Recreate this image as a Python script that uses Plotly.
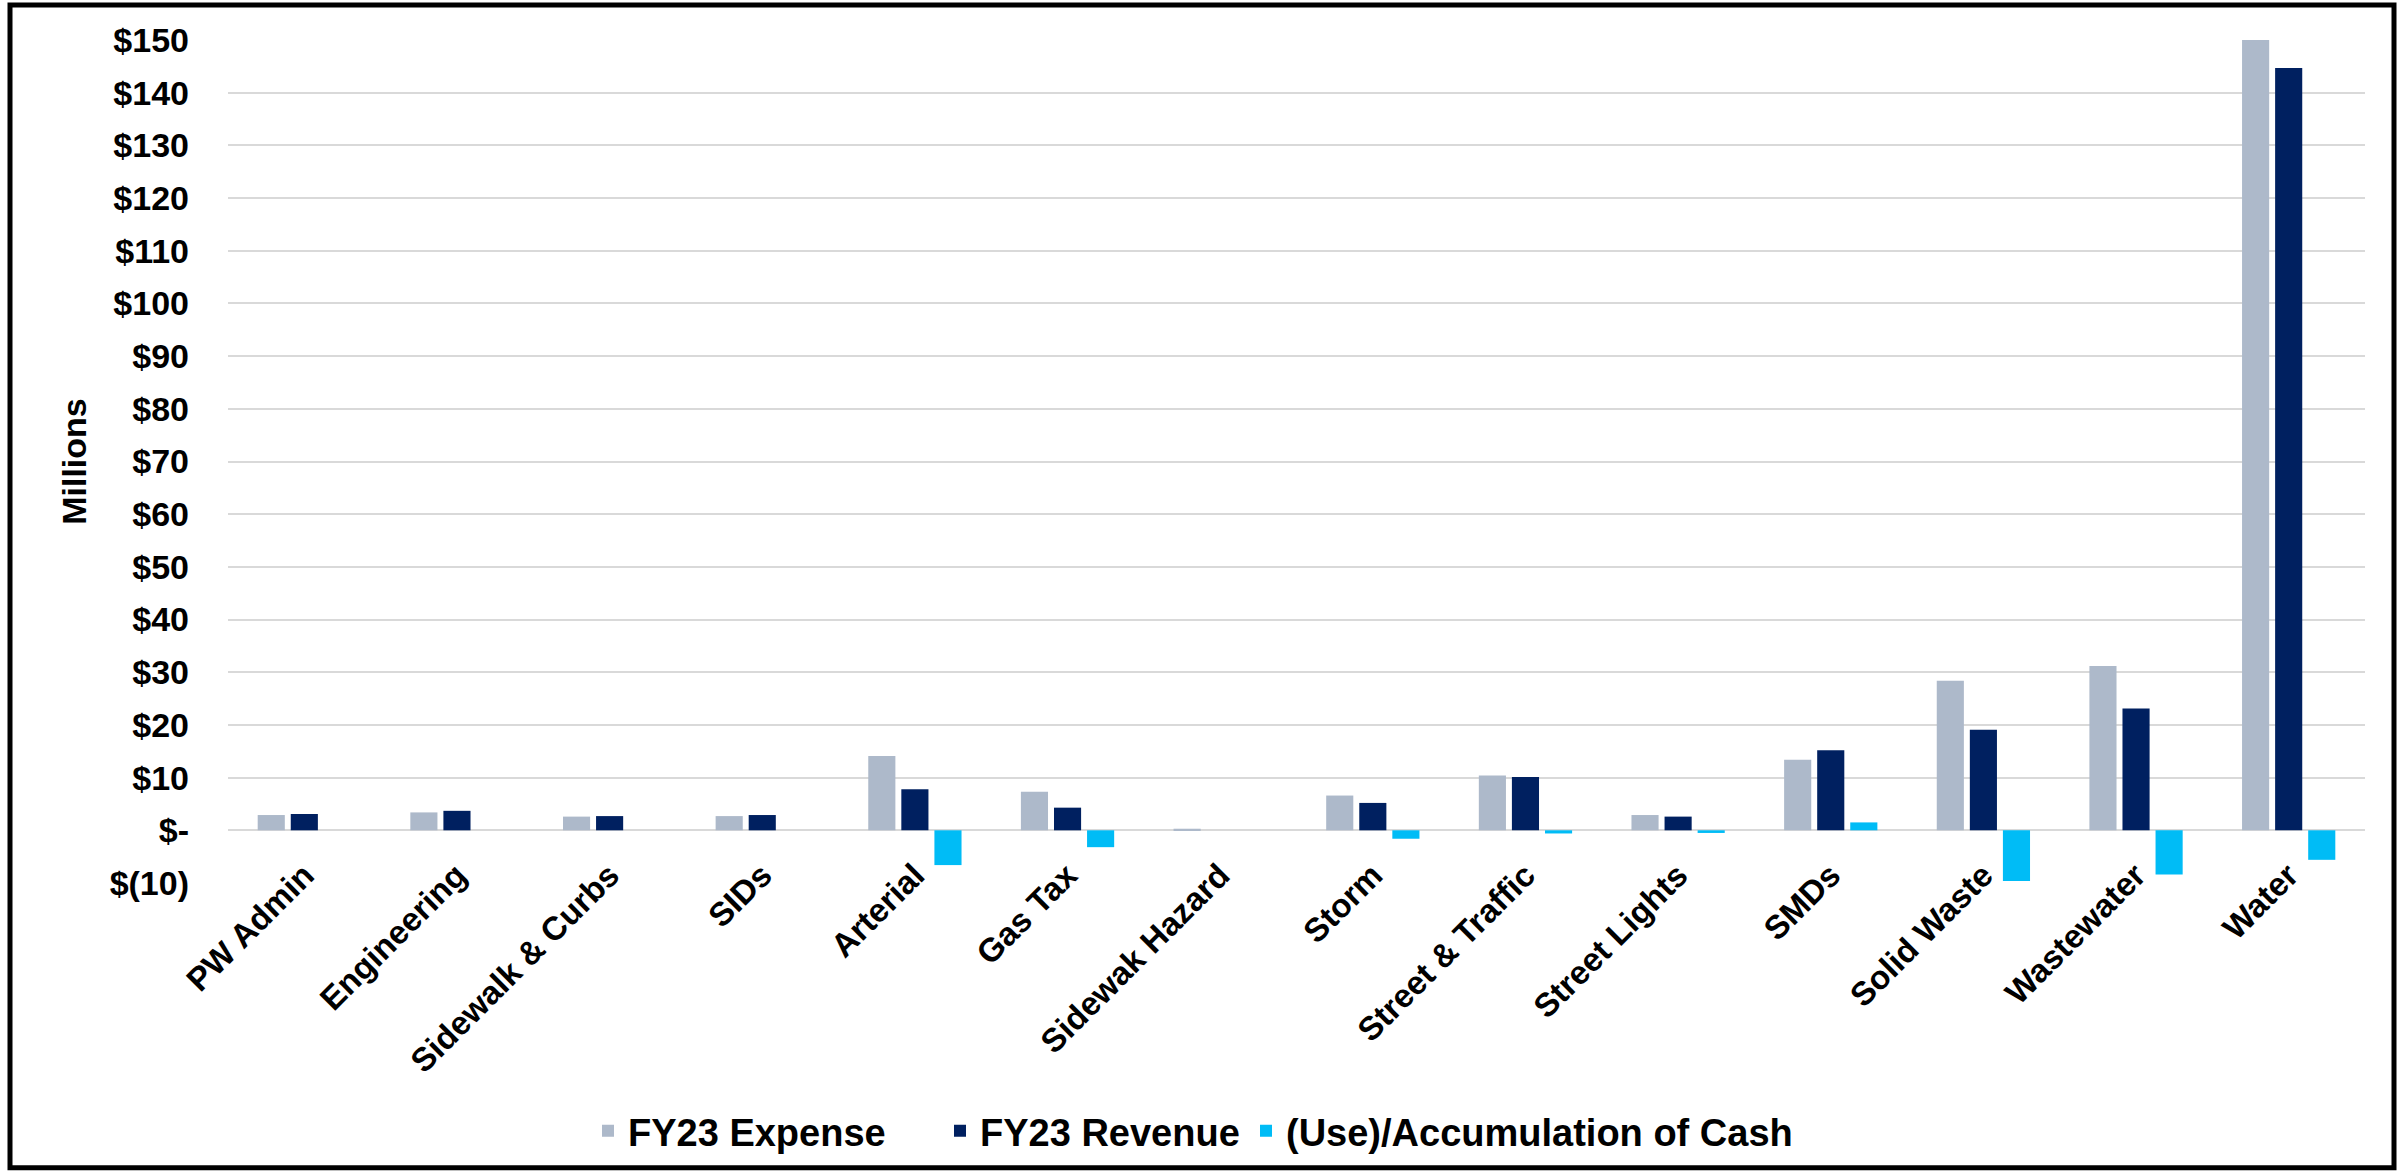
import plotly.graph_objects as go

categories = ["PW Admin", "Engineering", "Sidewalk & Curbs", "SIDs", "Arterial", "Gas Tax",
              "Sidewak Hazard", "Storm", "Street & Traffic", "Street Lights", "SMDs",
              "Solid Waste", "Wastewater", "Water"]
expense = [2.9, 3.4, 2.6, 2.7, 14.1, 7.3, 0.3, 6.6, 10.4, 2.9, 13.4, 28.4, 31.2, 150.0]
revenue = [3.1, 3.7, 2.7, 2.9, 7.8, 4.3, 0.0, 5.2, 10.1, 2.6, 15.2, 19.1, 23.1, 144.7]
cash = [0.0, 0.0, 0.0, 0.0, -6.6, -3.2, 0.0, -1.6, -0.6, -0.5, 1.5, -9.6, -8.4, -5.6]

series_names = ["FY23 Expense", "FY23 Revenue", "(Use)/Accumulation of Cash"]
colors = ["#ADB9CA", "#002060", "#00BCF6"]

y_tickvals = list(range(-10, 151, 10))
y_ticktext = ["$(10)", "$-"] + ["$" + str(v) for v in range(10, 151, 10)]
y_range = [-10, 150]

W, H = 2402, 1173
ML, MR, MT, MB = 228, 37, 40, 289
PW, PH = W - ML - MR, H - MT - MB

FONT = "Liberation Sans, Arial, sans-serif"

legend_ids = ["legend", "legend2", "legend3"]
legend_left_px = [588, 940, 1246]

fig = go.Figure()
for name, vals, col, lid in zip(series_names, [expense, revenue, cash], colors, legend_ids):
    fig.add_trace(go.Bar(name=name, x=categories, y=vals, marker_color=col,
                         marker_line_width=0, legend=lid, showlegend=True))

def px_x(p):
    return (p - ML) / PW

def px_y(p):
    return (H - MB - p) / PH

legend_layout = {}
for lid, lx in zip(legend_ids, legend_left_px):
    legend_layout[lid] = dict(orientation="h", x=px_x(lx), xanchor="left",
                              y=px_y(1131), yanchor="middle",
                              font=dict(family=FONT, size=38, color="black", weight="bold"),
                              bgcolor="rgba(0,0,0,0)")

fig.update_layout(
    width=W, height=H,
    showlegend=True,
    margin=dict(l=ML, r=MR, t=MT, b=MB),
    paper_bgcolor="white", plot_bgcolor="white",
    barmode="group", bargap=0.35, bargroupgap=0.18,
    font=dict(family=FONT, size=33, color="black", weight="bold"),
    xaxis=dict(
        anchor="free", position=(0 - y_range[0]) / (y_range[1] - y_range[0]),
        tickangle=-45, showgrid=False, showline=False, ticks="",
        ticklabelstandoff=18,
        tickfont=dict(family=FONT, size=33, color="black", weight="bold"),
    ),
    yaxis=dict(
        range=y_range, tickvals=y_tickvals, ticktext=y_ticktext,
        showgrid=True, gridcolor="#D9D9D9", gridwidth=2, zeroline=False,
        showline=False, ticks="", ticklabelstandoff=38,
        tickfont=dict(family=FONT, size=34, color="black", weight="bold"),
        title=dict(text="Millions", standoff=12,
                   font=dict(family=FONT, size=34, color="black", weight="bold")),
    ),
    shapes=[dict(type="rect", xref="paper", yref="paper",
                 x0=px_x(10), x1=px_x(2394), y0=px_y(1169), y1=px_y(5),
                 line=dict(color="black", width=5), fillcolor="rgba(0,0,0,0)")],
    **legend_layout,
)

fig.write_html("out.html", config={"displayModeBar": False},
               post_script="document.body.style.margin='0';")
